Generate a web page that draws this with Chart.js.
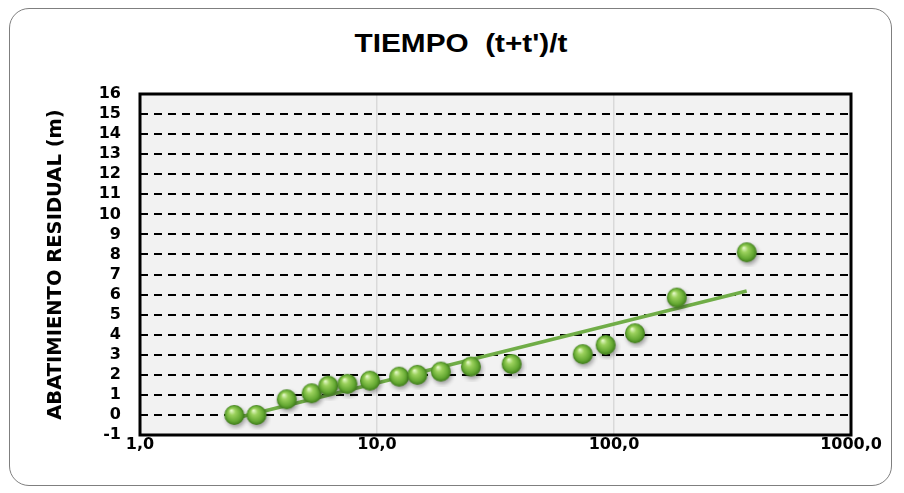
<!DOCTYPE html>
<html>
<head>
<meta charset="utf-8">
<script src="https://cdn.jsdelivr.net/npm/chart.js@4/dist/chart.umd.min.js"></script>
<style>
  html, body { margin: 0; padding: 0; background: #fff; }
  #wrap { position: relative; width: 904px; height: 493px; }
  #frame { position: absolute; left: 9px; top: 8px; width: 883px; height: 478px;
           border: 1px solid #7f7f7f; border-radius: 20px; box-sizing: border-box; }
  #titulo { position: absolute; left: 261px; width: 400px; top: 29px; text-align: center;
            font: bold 25px "Liberation Sans", Arial, sans-serif; color: #000;
            transform: scaleX(1.19); transform-origin: 200px 0; }
  canvas { position: absolute; left: 0; top: 0; }
</style>
</head>
<body>
<div id="wrap">
  <div id="frame"></div>
  <div id="titulo">TIEMPO&nbsp;&nbsp;(t+t')/t</div>
  <canvas id="grafico" width="904" height="493"></canvas>
</div>
<script>
//------------------------------------------ DATOS ------------------------------------------
var tiempo = [2.5, 3.1, 4.16, 5.3, 6.23, 7.5, 9.34, 12.4, 14.8, 18.6, 24.9, 37, 73.8, 92.2, 122.6, 184, 363];
var abatimiento = [0, 0, 0.78, 1.08, 1.46, 1.55, 1.71, 1.91, 2.0, 2.16, 2.41, 2.54, 3.03, 3.49, 4.07, 5.85, 8.11];
var xTicks = [1, 10, 100, 1000];
var xTickLabels = ['1,0', '10,0', '100,0', '1000,0'];
var yMin = -1, yMax = 16;

// linea de tendencia logaritmica (minimos cuadrados sobre log10 x)
var n = tiempo.length, sl = 0, sy = 0, sll = 0, sly = 0, i;
for (i = 0; i < n; i++) {
  var l = Math.log10(tiempo[i]);
  sl += l; sy += abatimiento[i]; sll += l * l; sly += l * abatimiento[i];
}
var b = (n * sly - sl * sy) / (n * sll - sl * sl);
var a = (sy - b * sl) / n;
var xs = [Math.min.apply(null, tiempo), Math.max.apply(null, tiempo)];
var tendencia = xs.map(function (x) { return {x: x, y: a + b * Math.log10(x)}; });

// esfera verde para los puntos
function esfera(r) {
  var c = document.createElement('canvas');
  var s = r * 2 + 10;
  c.width = s; c.height = s;
  var g = c.getContext('2d');
  var cx = s / 2, cy = s / 2;
  g.shadowColor = 'rgba(0,0,0,0.35)';
  g.shadowBlur = 4; g.shadowOffsetX = 1.5; g.shadowOffsetY = 2.5;
  var grad = g.createRadialGradient(cx - r * 0.3, cy - r * 0.45, r * 0.05, cx, cy, r);
  grad.addColorStop(0, '#e2f7c4');
  grad.addColorStop(0.3, '#9bd15c');
  grad.addColorStop(0.75, '#64a832');
  grad.addColorStop(1, '#3d7a1a');
  g.fillStyle = grad;
  g.beginPath(); g.arc(cx, cy, r, 0, Math.PI * 2); g.fill();
  return c;
}

var fuente = '"DejaVu Sans", sans-serif';

var fondo = {
  id: 'fondo',
  beforeDraw: function (chart) {
    var ca = chart.chartArea, ctx = chart.ctx;
    ctx.save();
    ctx.fillStyle = '#f2f2f2';
    ctx.fillRect(ca.left, ca.top, ca.right - ca.left, ca.bottom - ca.top);
    ctx.restore();
  },
  afterDatasetsDraw: function (chart) {
    var ca = chart.chartArea, ctx = chart.ctx;
    ctx.save();
    ctx.strokeStyle = '#000';
    ctx.lineWidth = 3;
    ctx.strokeRect(ca.left, ca.top, ca.right - ca.left, ca.bottom - ca.top);
    ctx.restore();
  }
};

new Chart(document.getElementById('grafico'), {
  type: 'scatter',
  data: {
    datasets: [{
      type: 'line',
      data: tendencia,
      borderColor: '#70ad47',
      borderWidth: 3.5,
      pointRadius: 0,
      fill: false,
      order: 2
    }, {
      data: tiempo.map(function (x, k) { return {x: x, y: abatimiento[k]}; }),
      pointStyle: esfera(10),
      pointRadius: 10,
      order: 1
    }]
  },
  options: {
    responsive: false,
    animation: false,
    layout: { padding: { left: 0, top: 94, right: 53, bottom: 0 } },
    plugins: { legend: { display: false }, tooltip: { enabled: false } },
    scales: {
      x: {
        type: 'logarithmic',
        min: 1, max: 1000,
        afterBuildTicks: function (s) { s.ticks = xTicks.map(function (v) { return {value: v}; }); },
        afterFit: function (s) { s.height = 58; },
        grid: { color: '#d9d9d9', lineWidth: 1.5, drawTicks: false },
        border: { display: false },
        ticks: {
          padding: 0,
          color: '#000',
          font: { family: fuente, size: 16, weight: 'bold' },
          maxRotation: 0,
          autoSkip: false,
          callback: function (v) { var k = xTicks.indexOf(v); return k >= 0 ? xTickLabels[k] : ''; }
        }
      },
      y: {
        min: yMin, max: yMax,
        afterFit: function (s) { s.width = 140; },
        grid: { color: '#000', lineWidth: 2, drawTicks: false },
        border: { display: false, dash: [8, 6] },
        ticks: {
          stepSize: 1,
          autoSkip: false,
          padding: 19,
          color: '#000',
          font: { family: fuente, size: 16, weight: 'bold' }
        },
        title: {
          display: true,
          text: 'ABATIMIENTO RESIDUAL (m)',
          color: '#000',
          font: { family: fuente, size: 19.5, weight: 'bold' },
          padding: { top: 44, bottom: 0 }
        }
      }
    }
  },
  plugins: [fondo]
});
</script>
</body>
</html>
